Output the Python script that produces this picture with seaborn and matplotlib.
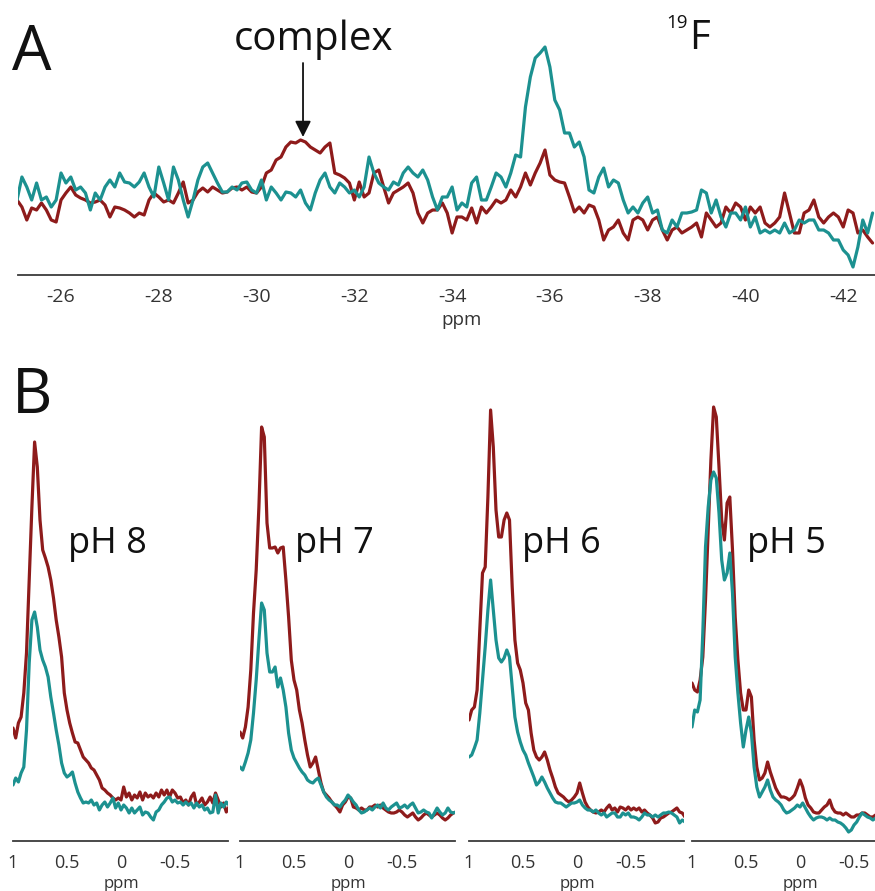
import numpy as np
import pandas as pd
import matplotlib
matplotlib.use('Agg')
import matplotlib.pyplot as plt
from matplotlib.ticker import MultipleLocator, FuncFormatter
from matplotlib.transforms import blended_transform_factory
import seaborn as sns

RED = '#8e1b1b'
TEAL = '#1c9190'

# panel A: 19F spectrum, -25.1 .. -42.6 ppm every 0.1 ppm
a_start, a_stop = -25.1, -42.6
a_red = [75, 68, 55, 67, 65, 72, 65, 55, 53, 75,
         82, 88, 80, 77, 75, 72, 73, 75, 70, 58,
         68, 67, 65, 62, 58, 62, 60, 75, 82, 78,
         73, 75, 72, 82, 93, 72, 75, 83, 87, 83,
         88, 85, 82, 83, 87, 88, 85, 88, 83, 82,
         88, 102, 105, 115, 118, 128, 133, 132, 135, 133,
         128, 125, 122, 128, 132, 102, 100, 97, 92, 75,
         93, 78, 82, 102, 105, 88, 72, 82, 85, 88,
         92, 82, 62, 52, 62, 65, 65, 72, 62, 42,
         58, 58, 55, 67, 52, 68, 62, 68, 75, 72,
         75, 85, 78, 88, 102, 90, 102, 112, 125, 100,
         95, 93, 92, 78, 63, 68, 62, 70, 68, 55,
         35, 45, 48, 55, 42, 35, 55, 58, 55, 45,
         55, 58, 45, 35, 45, 48, 42, 45, 48, 52,
         38, 62, 55, 48, 52, 68, 62, 72, 68, 55,
         68, 62, 68, 52, 48, 52, 58, 82, 62, 42,
         42, 62, 65, 75, 58, 52, 58, 62, 58, 48,
         65, 62, 42, 45, 38, 32]
a_teal = [75, 98, 88, 75, 92, 75, 78, 68, 75, 102,
          92, 98, 85, 88, 82, 65, 82, 75, 88, 95,
          88, 102, 93, 92, 88, 93, 102, 88, 78, 108,
          92, 75, 108, 95, 75, 58, 75, 95, 108, 112,
          102, 92, 83, 83, 88, 85, 92, 93, 85, 82,
          95, 75, 88, 82, 75, 83, 82, 78, 85, 72,
          65, 82, 95, 102, 88, 82, 92, 88, 82, 85,
          78, 88, 118, 102, 92, 88, 85, 93, 90, 102,
          108, 102, 98, 105, 95, 78, 65, 78, 78, 88,
          65, 72, 68, 92, 98, 75, 75, 88, 102, 98,
          88, 102, 120, 118, 168, 198, 217, 222, 228, 208,
          175, 165, 142, 142, 128, 133, 118, 85, 82, 98,
          107, 88, 95, 92, 75, 62, 68, 62, 72, 78,
          62, 65, 45, 42, 55, 48, 62, 62, 63, 65,
          85, 82, 62, 75, 58, 48, 62, 62, 55, 68,
          48, 58, 42, 45, 42, 45, 42, 52, 42, 45,
          55, 52, 55, 55, 45, 45, 42, 35, 35, 25,
          20, 8, 28, 55, 42, 62]

# panel B: 1H spectra every 0.025 ppm from 1.0 ppm
ph_labels = ['pH 8', 'pH 7', 'pH 6', 'pH 5']
ph_stop = [-1.0, -1.0, -1.0, -0.7]
ph8_red = [113, 103, 118, 124, 148, 188, 261, 334, 399, 374,
           321, 291, 283, 274, 261, 243, 221, 204, 184, 148,
           131, 118, 108, 99, 98, 91, 84, 81, 78, 73,
           71, 66, 61, 53, 51, 48, 46, 43, 41, 43,
           41, 54, 44, 48, 41, 46, 43, 49, 41, 48,
           44, 46, 43, 48, 44, 51, 46, 51, 44, 51,
           48, 43, 44, 38, 41, 36, 44, 48, 36, 39,
           43, 36, 39, 44, 38, 48, 41, 34, 38, 29, 34]
ph8_teal = [56, 63, 59, 68, 74, 111, 178, 221, 229, 214,
            191, 181, 174, 164, 144, 128, 111, 96, 78, 68,
            64, 66, 69, 58, 49, 43, 38, 39, 38, 41,
            36, 38, 31, 36, 39, 34, 38, 43, 33, 38,
            31, 36, 33, 28, 33, 28, 31, 34, 26, 29,
            28, 24, 21, 29, 31, 36, 39, 43, 44, 39,
            41, 38, 39, 36, 39, 36, 38, 33, 38, 34,
            36, 31, 33, 28, 29, 46, 28, 38, 34, 39, 36]
ph7_red = [109, 103, 114, 134, 171, 228, 271, 334, 414, 404,
           318, 293, 293, 294, 288, 293, 294, 261, 224, 181,
           161, 151, 131, 118, 101, 86, 74, 78, 84, 71,
           58, 49, 46, 43, 39, 36, 33, 29, 36, 39,
           44, 43, 34, 33, 31, 33, 31, 31, 34, 34,
           36, 34, 36, 33, 31, 29, 28, 28, 29, 31,
           29, 26, 24, 26, 28, 24, 21, 23, 26, 28,
           26, 24, 26, 28, 26, 23, 21, 23, 26, 28, 29]
ph7_teal = [74, 71, 79, 88, 101, 128, 161, 201, 238, 231,
            188, 169, 169, 174, 154, 163, 151, 134, 108, 91,
            83, 78, 73, 69, 66, 61, 59, 58, 61, 63,
            56, 49, 44, 41, 39, 36, 36, 34, 38, 41,
            46, 43, 39, 36, 31, 28, 29, 31, 33, 31,
            34, 36, 33, 38, 33, 31, 34, 36, 38, 33,
            34, 36, 33, 36, 38, 33, 28, 29, 31, 29,
            28, 23, 28, 33, 29, 26, 28, 33, 29, 28, 29]
ph6_red = [121, 131, 134, 151, 211, 268, 274, 344, 431, 394,
           331, 304, 304, 321, 328, 321, 254, 201, 178, 171,
           158, 138, 131, 108, 91, 84, 81, 84, 89, 81,
           71, 63, 54, 48, 46, 44, 41, 39, 41, 44,
           48, 58, 48, 39, 34, 31, 29, 28, 29, 31,
           29, 33, 36, 31, 33, 29, 34, 33, 31, 34,
           31, 33, 31, 33, 29, 31, 28, 26, 23, 18,
           19, 23, 24, 26, 28, 29, 31, 33, 29, 28, 24]
ph6_teal = [84, 86, 93, 101, 128, 161, 194, 231, 261, 231,
            201, 183, 179, 183, 191, 184, 154, 124, 109, 99,
            91, 86, 78, 71, 64, 56, 59, 64, 59, 53,
            48, 43, 39, 38, 38, 36, 34, 36, 38, 38,
            39, 41, 36, 33, 31, 31, 29, 31, 28, 26,
            28, 24, 26, 28, 28, 24, 24, 28, 26, 28,
            24, 24, 23, 21, 24, 28, 26, 26, 24, 26,
            24, 26, 28, 28, 29, 28, 26, 24, 18, 21, 19]
ph5_red = [158, 151, 149, 161, 184, 241, 311, 381, 434, 424,
           374, 321, 301, 338, 344, 291, 224, 181, 148, 131,
           131, 151, 144, 101, 74, 61, 63, 68, 79, 69,
           61, 53, 48, 44, 44, 43, 41, 43, 46, 53,
           61, 54, 43, 36, 33, 29, 28, 28, 31, 34,
           36, 41, 33, 29, 28, 28, 26, 28, 26, 24,
           24, 26, 26, 28, 28, 26, 24, 24, 26]
ph5_teal = [114, 131, 129, 141, 208, 294, 334, 361, 369, 363,
            328, 281, 261, 268, 288, 248, 184, 148, 118, 94,
            111, 124, 108, 74, 54, 44, 49, 54, 61, 51,
            44, 41, 39, 36, 31, 28, 29, 31, 33, 36,
            34, 38, 33, 28, 24, 21, 23, 24, 24, 23,
            21, 23, 21, 21, 19, 18, 16, 13, 9, 11,
            16, 19, 24, 28, 26, 24, 23, 21, 23]
ph_red = [ph8_red, ph7_red, ph6_red, ph5_red]
ph_teal = [ph8_teal, ph7_teal, ph6_teal, ph5_teal]

sns.set_style('white')
plt.rcParams['font.family'] = ['Open Sans', 'DejaVu Sans']
plt.rcParams['axes.unicode_minus'] = False

W, H = 875, 891
fig = plt.figure(figsize=(W / 100, H / 100), dpi=100)


def box(left, top, right, bottom):
    return [left / W, 1 - bottom / H, (right - left) / W, (bottom - top) / H]


def two_traces(ax, ppm, red, teal):
    n = len(ppm)
    df = pd.DataFrame({'ppm': np.concatenate([ppm, ppm]),
                       'intensity': list(red) + list(teal),
                       'sample': ['red'] * n + ['teal'] * n})
    sns.lineplot(data=df, x='ppm', y='intensity', hue='sample',
                 palette=[RED, TEAL], lw=2.3, estimator=None,
                 legend=False, ax=ax)


def style(ax, major, minor, size):
    for s in ['left', 'right', 'top']:
        ax.spines[s].set_visible(False)
    ax.spines['bottom'].set_color('#3a3a3a')
    ax.spines['bottom'].set_linewidth(1.3)
    ax.set_yticks([])
    ax.set_xlabel('')
    ax.set_ylabel('')
    ax.patch.set_alpha(0)
    ax.xaxis.set_major_locator(MultipleLocator(major))
    ax.xaxis.set_minor_locator(MultipleLocator(minor))
    ax.xaxis.set_major_formatter(FuncFormatter(lambda v, _: f'{v + 0:g}'))
    ax.tick_params(axis='x', which='major', length=5, width=1.2, color='#3a3a3a',
                   labelsize=size, labelcolor='#333333', pad=4)
    ax.tick_params(axis='x', which='minor', length=3, width=1.2, color='#3a3a3a')


# panel A
axA = fig.add_axes(box(18, 30, 875, 275))
ppmA = np.linspace(a_start, a_stop, len(a_red))
two_traces(axA, ppmA, a_red, a_teal)
axA.set_xlim(-25.12, -42.65)
axA.set_ylim(0, 245)
style(axA, 2, 0.5, 14)
trA = blended_transform_factory(axA.transData, axA.transAxes)
axA.text(-34.2, -0.204, 'ppm', transform=trA, ha='center', va='baseline',
         fontsize=13.5, color='#333333')
axA.annotate('', xy=(-30.95, 138), xytext=(-30.95, 212),
             arrowprops=dict(arrowstyle='-|>', color='#111111', lw=1.3,
                             mutation_scale=24, shrinkA=0, shrinkB=0))

# panel B
lefts = [13, 240, 469, 692]
for i in range(4):
    ppm = np.linspace(1.0, ph_stop[i], len(ph_red[i]))
    right = lefts[i] + 215 if i < 3 else W
    ax = fig.add_axes(box(lefts[i], 395, right, 841))
    two_traces(ax, ppm, ph_red[i], ph_teal[i])
    ax.set_xlim(1.0, 1.0 - (right - lefts[i]) / 108)
    ax.set_ylim(0, 446)
    style(ax, 0.5, 0.25, 13)
    tr = blended_transform_factory(ax.transData, ax.transAxes)
    ax.text(0.0, -0.105, 'ppm', transform=tr, ha='center', va='baseline',
            fontsize=12, color='#333333')

ph_left = [68, 295, 522, 747]
for lab, x in zip(ph_labels, ph_left):
    fig.text(x / W, 1 - 553 / H, lab, fontsize=26, ha='left', va='baseline', color='#111111')

fig.text(12 / W, 1 - 70 / H, 'A', fontsize=45, ha='left', va='baseline', color='#111111')
fig.text(12 / W, 1 - 413 / H, 'B', fontsize=45, ha='left', va='baseline', color='#111111')
fig.text(314 / W, 1 - 50 / H, 'complex', fontsize=29, ha='center', va='baseline', color='#111111')
fig.text(688 / W, 1 - 28 / H, '19', fontsize=13.5, ha='right', va='baseline', color='#111111')
fig.text(689 / W, 1 - 49 / H, 'F', fontsize=29, ha='left', va='baseline', color='#111111')

fig.savefig('out.png', dpi=100, facecolor='white')
